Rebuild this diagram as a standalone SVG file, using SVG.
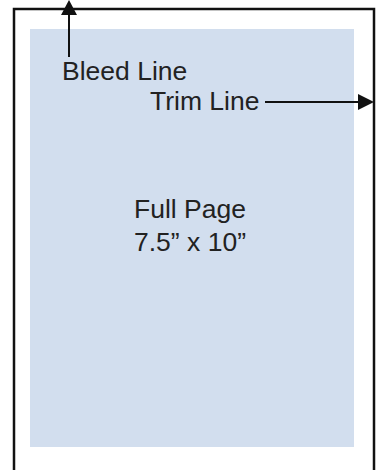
<svg xmlns="http://www.w3.org/2000/svg" width="379" height="470" viewBox="0 0 379 470">
<style>
text{font-family:"Liberation Sans",Arial,sans-serif;font-size:26.5px;fill:#222}
.ln{stroke:#111;stroke-width:2;fill:none}
</style>
<rect width="379" height="470" fill="#fff"/>
<g id="trim"><rect x="14" y="9" width="360" height="480" fill="none" stroke="#111" stroke-width="2.5"/></g>
<g id="page"><rect x="30" y="29" width="324" height="418" fill="#d2deee"/>
<text x="190" y="218" text-anchor="middle">Full Page</text>
<text x="190" y="251" text-anchor="middle">7.5” x 10”</text></g>
<g id="labels">
<text x="62" y="80">Bleed Line</text>
<text x="150" y="110">Trim Line</text>
</g>
<g id="connectors">
<line class="ln" x1="69" y1="57" x2="69" y2="14"/>
<path d="M61,15L69,0L77,15z" fill="#111"/>
<line class="ln" x1="265" y1="102" x2="359" y2="102"/>
<path d="M358,94L374,102L358,110z" fill="#111"/>
</g>
</svg>
